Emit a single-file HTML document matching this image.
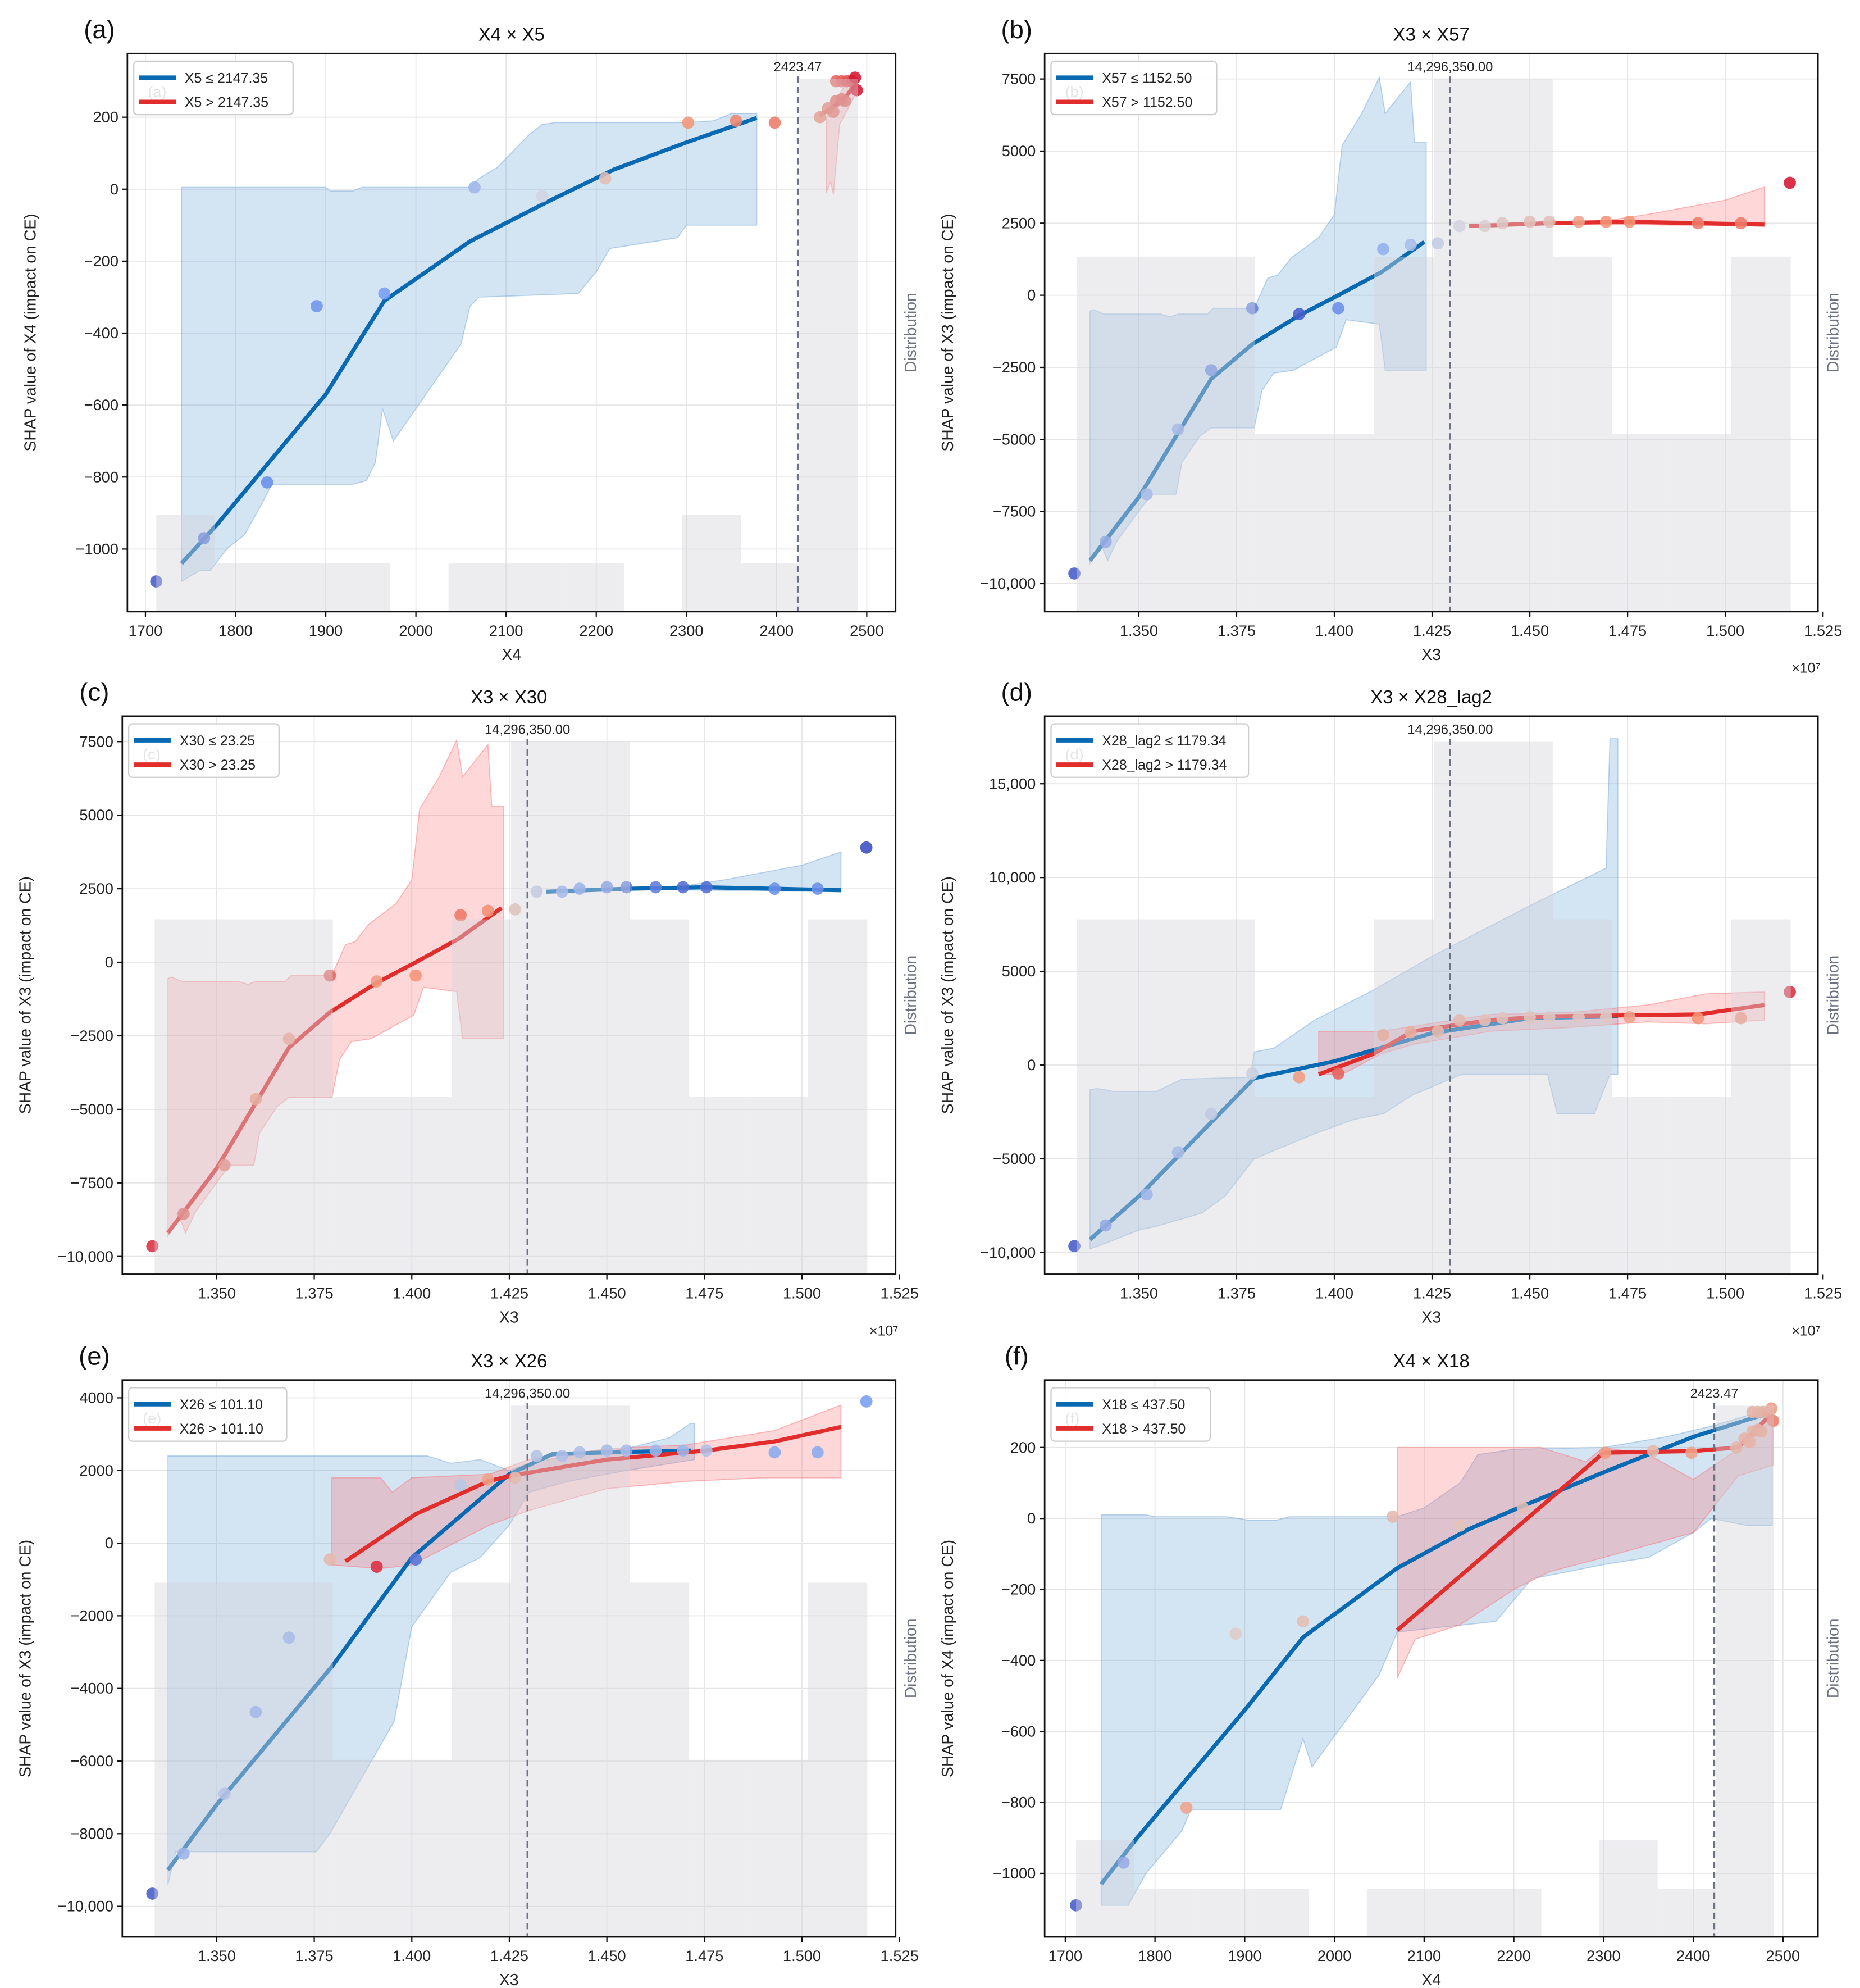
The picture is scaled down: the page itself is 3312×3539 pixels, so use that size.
<!DOCTYPE html>
<html><head><meta charset="utf-8"><style>
html,body{margin:0;padding:0;background:#fff}
svg{display:block}
text{font-family:"Liberation Sans",sans-serif}
</style></head><body>
<svg id="fig" width="3312" height="3539" viewBox="0 0 1460 1560.1" preserveAspectRatio="none" xmlns="http://www.w3.org/2000/svg"></svg>
<script>
// ---------- data ----------
const x4Vals=[1712,1765,1835,1890,1965,2065,2140,2210,2302,2355,2398,2448,2457,2463,2466,2472,2476,2466,2472,2478,2484,2487,2489];
const x4Shap=[-1090,-970,-815,-325,-290,5,-20,30,185,190,185,200,225,215,245,250,245,300,300,300,300,310,275];
const aColor=[0.05,0.12,0.2,0.22,0.25,0.35,0.48,0.6,0.75,0.78,0.8,0.78,0.8,0.82,0.85,0.85,0.85,0.85,0.85,0.88,0.9,1.0,1.0];
const fColor=[0.05,0.2,0.7,0.55,0.6,0.62,0.58,0.6,0.72,0.62,0.7,0.7,0.72,0.72,0.72,0.72,0.72,0.72,0.72,0.72,0.75,0.72,0.8];
const x4HistCounts=[2,1,1,1,0,1,1,1,0,2,1,11];
const x4HistStart=1712, x4HistWidth=64.83;

const x3Vals=[1.3335,1.3415,1.352,1.360,1.3685,1.379,1.391,1.401,1.4125,1.4195,1.4265,1.432,1.4385,1.443,1.450,1.455,1.4625,1.4695,1.4755,1.493,1.504,1.5165];
const x3Shap=[-9650,-8550,-6900,-4650,-2600,-450,-650,-450,1600,1750,1800,2400,2400,2500,2550,2550,2550,2550,2550,2500,2500,3900];
const bColor=[0.05,0.2,0.3,0.3,0.18,0.15,0.05,0.2,0.32,0.38,0.42,0.48,0.55,0.6,0.65,0.65,0.7,0.75,0.75,0.8,0.8,1.0];
const cColor=[0.95,0.85,0.8,0.75,0.72,0.85,0.72,0.75,0.8,0.76,0.62,0.42,0.3,0.25,0.2,0.15,0.15,0.1,0.1,0.2,0.2,0.0];
const dColor=[0.05,0.2,0.25,0.3,0.4,0.45,0.72,0.85,0.75,0.75,0.7,0.68,0.65,0.62,0.62,0.6,0.6,0.6,0.7,0.75,0.75,0.95];
const eColor=[0.05,0.25,0.35,0.28,0.3,0.62,0.95,0.12,0.42,0.7,0.68,0.35,0.32,0.32,0.3,0.3,0.35,0.35,0.4,0.3,0.3,0.25];
const x3HistCounts=[2,2,2,1,1,2,3,3,2,1,1,2];
const x3HistStart=1.3341, x3HistWidth=0.01522;

// lines and bands ([x, y] pairs)
const aBlueLine=[[1740,-1040],[1780,-930],[1900,-570],[1965,-310],[2060,-145],[2150,-30],[2220,55],[2300,130],[2378,198]];
const aBlueUpper=[[1740,5],[1900,5],[1905,-5],[1930,-5],[1940,5],[2060,5],[2070,30],[2090,60],[2125,150],[2140,180],[2155,185],[2300,185],[2330,190],[2350,210],[2378,210]];
const aBlueLower=[[1740,-1090],[1760,-1060],[1772,-1060],[1790,-1000],[1810,-960],[1830,-870],[1840,-820],[1930,-820],[1945,-810],[1955,-760],[1963,-610],[1975,-700],[2050,-430],[2060,-325],[2070,-300],[2180,-290],[2200,-230],[2215,-165],[2290,-135],[2300,-100],[2378,-100]];
const aRedLine=[[2448,205],[2466,235],[2478,260],[2489,300]];
const aRedUpper=[[2455,200],[2465,240],[2478,300],[2489,310]];
const aRedLower=[[2455,-10],[2460,20],[2463,-15],[2470,180],[2489,270]];

const bBlueLine=[[1.3375,-9200],[1.350,-7000],[1.3685,-2900],[1.379,-1700],[1.391,-700],[1.401,0],[1.412,800],[1.423,1850]];
const bBlueUpper=[[1.3375,-550],[1.3385,-500],[1.341,-650],[1.3555,-650],[1.358,-750],[1.360,-650],[1.3675,-650],[1.369,-450],[1.3795,-450],[1.383,600],[1.3855,700],[1.389,1300],[1.396,2000],[1.400,2800],[1.402,5200],[1.407,6300],[1.4115,7550],[1.413,6300],[1.4195,7400],[1.4205,5300],[1.4235,5300]];
const bBlueLower=[[1.3375,-9300],[1.3405,-8700],[1.342,-9200],[1.3445,-8500],[1.351,-7300],[1.3535,-6900],[1.3595,-6900],[1.361,-5800],[1.3655,-4900],[1.3685,-4600],[1.3795,-4600],[1.3815,-3300],[1.3845,-2700],[1.3895,-2600],[1.4005,-1800],[1.403,-850],[1.4115,-1000],[1.413,-2600],[1.4235,-2600]];
const bRedLine=[[1.4345,2400],[1.455,2500],[1.475,2550],[1.493,2500],[1.510,2450]];
const bRedUpper=[[1.4345,2450],[1.455,2500],[1.470,2600],[1.480,2800],[1.500,3300],[1.510,3750]];
const bRedLower=[[1.4345,2350],[1.455,2480],[1.510,2400]];

const dBlueLine=[[1.3375,-9300],[1.350,-7000],[1.3795,-700],[1.400,200],[1.425,1700],[1.450,2500],[1.4725,2600]];
const dBlueUpper=[[1.3375,-1300],[1.3395,-1250],[1.3435,-1400],[1.3545,-1400],[1.361,-750],[1.3785,-650],[1.3795,700],[1.3845,900],[1.395,2400],[1.410,4000],[1.425,5800],[1.450,8500],[1.4695,10500],[1.4705,17400],[1.4725,17400]];
const dBlueLower=[[1.3375,-9800],[1.3415,-9500],[1.350,-8800],[1.3545,-8600],[1.366,-7900],[1.372,-7000],[1.3795,-5000],[1.3945,-3700],[1.405,-2900],[1.4125,-2600],[1.420,-1600],[1.4325,-500],[1.4545,-500],[1.457,-2600],[1.4665,-2600],[1.4705,-500],[1.4725,-500]];
const dRedLine=[[1.396,-500],[1.410,600],[1.420,1800],[1.440,2400],[1.455,2600],[1.475,2650],[1.493,2700],[1.510,3200]];
const dRedUpper=[[1.396,1800],[1.412,1800],[1.418,2000],[1.440,2700],[1.460,2800],[1.480,3200],[1.495,3800],[1.510,3900]];
const dRedLower=[[1.396,-500],[1.402,-500],[1.412,600],[1.420,1100],[1.440,1800],[1.460,2000],[1.480,2300],[1.495,2200],[1.510,2400]];

const eBlueLine=[[1.3375,-9000],[1.350,-7200],[1.3795,-3400],[1.400,-400],[1.425,1900],[1.436,2450],[1.450,2500],[1.4715,2550]];
const eBlueUpper=[[1.3375,2400],[1.404,2400],[1.410,2200],[1.4175,2300],[1.425,2000],[1.430,2200],[1.440,2400],[1.455,2600],[1.466,2900],[1.4715,3300],[1.4725,3300]];
const eBlueLower=[[1.3375,-9400],[1.3395,-8500],[1.3755,-8500],[1.379,-8000],[1.3955,-4900],[1.400,-2300],[1.410,-800],[1.4175,-400],[1.425,500],[1.430,1400],[1.440,1700],[1.455,2000],[1.4725,2300]];
const eRedLine=[[1.383,-500],[1.401,800],[1.4195,1700],[1.425,1850],[1.450,2300],[1.4755,2550],[1.493,2800],[1.510,3200]];
const eRedUpper=[[1.3795,1800],[1.392,1800],[1.395,1400],[1.400,1800],[1.420,1900],[1.430,2300],[1.450,2600],[1.470,2700],[1.493,3100],[1.510,3800]];
const eRedLower=[[1.3795,-600],[1.392,-700],[1.400,-600],[1.420,500],[1.430,900],[1.450,1500],[1.470,1700],[1.490,1800],[1.510,1800]];

const fBlueLine=[[1740,-1030],[1780,-900],[1900,-540],[1965,-335],[2070,-140],[2150,-30],[2210,35],[2300,130],[2400,230],[2488,300]];
const fBlueUpper=[[1740,10],[1790,10],[1800,5],[1880,5],[1905,-5],[1935,-5],[1950,5],[2070,5],[2100,30],[2140,100],[2160,180],[2200,195],[2300,200],[2370,230],[2420,260],[2460,290],[2488,300]];
const fBlueLower=[[1740,-1090],[1770,-1090],[1790,-1000],[1830,-880],[1840,-820],[1940,-820],[1965,-620],[1975,-700],[2050,-440],[2070,-320],[2180,-290],[2200,-230],[2220,-170],[2300,-130],[2350,-110],[2400,-40],[2420,0],[2460,-20],[2488,-20]];
const fRedLine=[[2070,-315],[2300,185],[2400,190],[2450,200],[2489,300]];
const fRedUpper=[[2070,200],[2230,200],[2280,160],[2300,200],[2350,180],[2400,110],[2450,195],[2489,300]];
const fRedLower=[[2070,-450],[2090,-340],[2140,-300],[2200,-200],[2240,-150],[2300,-110],[2400,-40],[2450,120],[2489,150]];

const x4Ticks=[1700,1800,1900,2000,2100,2200,2300,2400,2500];
const x3Ticks=[1.350,1.375,1.400,1.425,1.450,1.475,1.500,1.525];
const aYTicks=[200,0,-200,-400,-600,-800,-1000];
const bYTicks=[7500,5000,2500,0,-2500,-5000,-7500,-10000];
const dYTicks=[15000,10000,5000,0,-5000,-10000];
const eYTicks=[4000,2000,0,-2000,-4000,-6000,-8000,-10000];

const panels=[
 {id:'a',x0:100,x1:703,y0:42,y1:480,xd:[1680,2532],yd:[-1174,377],title:'X4 × X5',xl:'X4',yl:'SHAP value of X4 (impact on CE)',xt:x4Ticks,yt:aYTicks,sci:false,
  px:x4Vals,py:x4Shap,pc:aColor,hc:x4HistCounts,hs:x4HistStart,hw:x4HistWidth,thr:2423.47,thrLabel:'2423.47',leg:['X5 ≤ 2147.35','X5 > 2147.35'],legW:125,
  blue:[aBlueLine,aBlueUpper,aBlueLower],red:[aRedLine,aRedUpper,aRedLower]},
 {id:'b',x0:820,x1:1427,y0:42,y1:480,xd:[1.3259,1.5237],yd:[-10972,8384],title:'X3 × X57',xl:'X3',yl:'SHAP value of X3 (impact on CE)',xt:x3Ticks,yt:bYTicks,sci:true,
  px:x3Vals,py:x3Shap,pc:bColor,hc:x3HistCounts,hs:x3HistStart,hw:x3HistWidth,thr:1.429635,thrLabel:'14,296,350.00',leg:['X57 ≤ 1152.50','X57 > 1152.50'],legW:130,
  blue:[bBlueLine,bBlueUpper,bBlueLower],red:[bRedLine,bRedUpper,bRedLower]},
 {id:'c',x0:96,x1:703,y0:562,y1:1000,xd:[1.3258,1.524],yd:[-10606,8367],title:'X3 × X30',xl:'X3',yl:'SHAP value of X3 (impact on CE)',xt:x3Ticks,yt:bYTicks,sci:true,
  px:x3Vals,py:x3Shap,pc:cColor,hc:x3HistCounts,hs:x3HistStart,hw:x3HistWidth,thr:1.429635,thrLabel:'14,296,350.00',leg:['X30 ≤ 23.25','X30 > 23.25'],legW:118,
  blue:[bRedLine,bRedUpper,bRedLower],red:[bBlueLine,bBlueUpper,bBlueLower]},
 {id:'d',x0:820,x1:1427,y0:562,y1:1000,xd:[1.3259,1.5237],yd:[-11156,18605],title:'X3 × X28_lag2',xl:'X3',yl:'SHAP value of X3 (impact on CE)',xt:x3Ticks,yt:dYTicks,sci:true,
  px:x3Vals,py:x3Shap,pc:dColor,hc:x3HistCounts,hs:x3HistStart,hw:x3HistWidth,thr:1.429635,thrLabel:'14,296,350.00',leg:['X28_lag2 ≤ 1179.34','X28_lag2 > 1179.34'],legW:155,
  blue:[dBlueLine,dBlueUpper,dBlueLower],red:[dRedLine,dRedUpper,dRedLower]},
 {id:'e',x0:96,x1:703,y0:1083,y1:1520,xd:[1.3258,1.524],yd:[-10842,4491],title:'X3 × X26',xl:'X3',yl:'SHAP value of X3 (impact on CE)',xt:x3Ticks,yt:eYTicks,sci:true,
  px:x3Vals,py:x3Shap,pc:eColor,hc:x3HistCounts,hs:x3HistStart,hw:x3HistWidth,thr:1.429635,thrLabel:'14,296,350.00',leg:['X26 ≤ 101.10','X26 > 101.10'],legW:124,
  blue:[eBlueLine,eBlueUpper,eBlueLower],red:[eRedLine,eRedUpper,eRedLower]},
 {id:'f',x0:820,x1:1427,y0:1083,y1:1520,xd:[1677,2539],yd:[-1179,390],title:'X4 × X18',xl:'X4',yl:'SHAP value of X4 (impact on CE)',xt:x4Ticks,yt:aYTicks,sci:false,
  px:x4Vals,py:x4Shap,pc:fColor,hc:x4HistCounts,hs:x4HistStart,hw:x4HistWidth,thr:2423.47,thrLabel:'2423.47',leg:['X18 ≤ 437.50','X18 > 437.50'],legW:125,
  blue:[fBlueLine,fBlueUpper,fBlueLower],red:[fRedLine,fRedUpper,fRedLower]}
];

// ---------- drawing ----------
const NS='http://www.w3.org/2000/svg';
const svg=document.getElementById('fig');
function mk(tag,attrs,parent){const e=document.createElementNS(NS,tag);for(const k in attrs)e.setAttribute(k,attrs[k]);(parent||svg).appendChild(e);return e;}
const stops=[[0,[59,76,192]],[0.25,[118,158,244]],[0.5,[218,218,222]],[0.75,[244,148,118]],[1,[214,20,50]]];
function cmap(t){for(let i=1;i<stops.length;i++){if(t<=stops[i][0]){const a=stops[i-1],b=stops[i];const f=(t-a[0])/(b[0]-a[0]);const c=a[1].map((v,j)=>Math.round(v+(b[1][j]-v)*f));return 'rgb('+c.join(',')+')';}}return 'rgb(214,20,50)';}
function fmtY(v){let s=Math.abs(v)>=10000?Math.abs(v).toLocaleString('en-US'):String(Math.abs(v));return (v<0?'−':'')+s;}

panels.forEach(p=>{
  const sx=v=>p.x0+(v-p.xd[0])/(p.xd[1]-p.xd[0])*(p.x1-p.x0);
  const sy=v=>p.y1-(v-p.yd[0])/(p.yd[1]-p.yd[0])*(p.y1-p.y0);
  const g=mk('g',{});
  
  
  const cid='clip'+p.id;
  const cp=mk('clipPath',{id:cid},g);mk('rect',{x:p.x0,y:p.y0,width:p.x1-p.x0,height:p.y1-p.y0},cp);
  // grid
  p.xt.forEach(t=>{const x=sx(t);if(x>=p.x0&&x<=p.x1){const l=mk('line',{x1:x,x2:x,y1:p.y0,y2:p.y1,stroke:'#e6e6e6','stroke-width':0.8},g);}});
  p.yt.forEach(t=>{const y=sy(t);const l=mk('line',{x1:p.x0,x2:p.x1,y1:y,y2:y,stroke:'#e6e6e6','stroke-width':0.8},g);});
  const inner=mk('g',{'clip-path':'url(#'+cid+')'},g);
  // bands
  function band(up,lo,fill,stroke,name){const pts=up.map(q=>sx(q[0])+','+sy(q[1])).concat(lo.slice().reverse().map(q=>sx(q[0])+','+sy(q[1])));const e=mk('polygon',{points:pts.join(' '),fill:fill,stroke:stroke,'stroke-width':0.8},inner);}
  band(p.blue[1],p.blue[2],'rgba(110,165,215,0.3)','rgba(110,165,215,0.45)','blue-ci-band');
  band(p.red[1],p.red[2],'rgba(250,110,115,0.28)','rgba(250,110,115,0.45)','red-ci-band');
  function line(pts,col,name){const e=mk('polyline',{points:pts.map(q=>sx(q[0])+','+sy(q[1])).join(' '),fill:'none',stroke:col,'stroke-width':3.2,'stroke-linejoin':'round'},inner);}
  line(p.blue[0],'#0a69b3','blue-trend-line');
  line(p.red[0],'#e22d2d','red-trend-line');
  // points
  p.px.forEach((v,i)=>{const c=mk('circle',{cx:sx(v),cy:sy(p.py[i]),r:4.8,fill:cmap(p.pc[i]),'fill-opacity':0.88},inner);});
  // histogram overlay
  const maxC=Math.max(...p.hc);const hH=(p.y1-p.y0)*0.954;
  p.hc.forEach((c,i)=>{if(!c)return;const xa=sx(p.hs+i*p.hw),xb=sx(p.hs+(i+1)*p.hw);const h=c/maxC*hH;const r=mk('rect',{x:xa,y:p.y1-h,width:xb-xa,height:h,fill:'#d5d5db','fill-opacity':0.42},inner);});
  // threshold
  const tx=sx(p.thr);
  const tl=mk('line',{x1:tx,x2:tx,y1:p.y0+18,y2:p.y1,stroke:'#6b7385','stroke-width':1.4,'stroke-dasharray':'5,3'},g);
  
  
  const tt=mk('text',{x:tx,y:p.y0+14,'font-size':10.5,'text-anchor':'middle',fill:'#222'},g);tt.textContent=p.thrLabel;
  
  
  // frame
  const fr=mk('rect',{x:p.x0,y:p.y0,width:p.x1-p.x0,height:p.y1-p.y0,fill:'none',stroke:'#111','stroke-width':1.2},g);
  
  
  // ticks
  p.xt.forEach(t=>{const x=sx(t);if(x<p.x0-1||x>p.x1+5)return;mk('line',{x1:x,x2:x,y1:p.y1,y2:p.y1+4,stroke:'#111','stroke-width':1},g);const tx2=mk('text',{x:x,y:p.y1+19,'font-size':12,'text-anchor':'middle',fill:'#222'},g);tx2.textContent=p.sci?t.toFixed(3):String(t);});
  p.yt.forEach(t=>{const y=sy(t);mk('line',{x1:p.x0-4,x2:p.x0,y1:y,y2:y,stroke:'#111','stroke-width':1},g);const ty=mk('text',{x:p.x0-7,y:y+4,'font-size':12,'text-anchor':'end',fill:'#222'},g);ty.textContent=fmtY(t);});
  if(p.sci){const s=mk('text',{x:p.x1+2,y:p.y1+48,'font-size':11,'text-anchor':'end',fill:'#222'},g);s.textContent='×10⁷';}
  // labels
  const cx=(p.x0+p.x1)/2,cy=(p.y0+p.y1)/2;
  const ti=mk('text',{x:cx,y:p.y0-10,'font-size':14.5,'text-anchor':'middle',fill:'#111'},g);ti.textContent=p.title;
  
  
  const pl=mk('text',{x:p.x0-22,y:p.y0-12,'font-size':20,'text-anchor':'middle',fill:'#111'},g);pl.textContent='('+p.id+')';
  
  
  const xl=mk('text',{x:cx,y:p.y1+38,'font-size':12.5,'text-anchor':'middle',fill:'#222'},g);xl.textContent=p.xl;
  
  
  const ylx=p.x0-(p.id==='b'||p.id==='d'||p.id==='f'?72:72);
  const yl=mk('text',{x:ylx,y:cy,'font-size':12.5,'text-anchor':'middle',fill:'#222',transform:'rotate(-90 '+ylx+' '+cy+')'},g);yl.textContent=p.yl;
  
  
  const dx=p.x1+16;
  const dl=mk('text',{x:dx,y:cy,'font-size':12.5,'text-anchor':'middle',fill:'#6b7280',transform:'rotate(-90 '+dx+' '+cy+')'},g);dl.textContent='Distribution';
  
  
  // legend
  const lg=mk('g',{},g);
  
  
  mk('rect',{x:p.x0+5,y:p.y0+6,width:p.legW,height:42,rx:3,fill:'rgba(255,255,255,0.85)',stroke:'#cccccc','stroke-width':1},lg);
  mk('text',{x:p.x0+16,y:p.y0+34,'font-size':12,fill:'#e4e4e4'},lg).textContent='('+p.id+')';
  [['#0a69b3',p.leg[0]],['#e22d2d',p.leg[1]]].forEach((L,i)=>{const y=p.y0+19+i*19;mk('line',{x1:p.x0+9,x2:p.x0+38,y1:y,y2:y,stroke:L[0],'stroke-width':3.5},lg);const t=mk('text',{x:p.x0+45,y:y+4,'font-size':11,fill:'#222'},lg);t.textContent=L[1];});
});
</script>
</body></html>
